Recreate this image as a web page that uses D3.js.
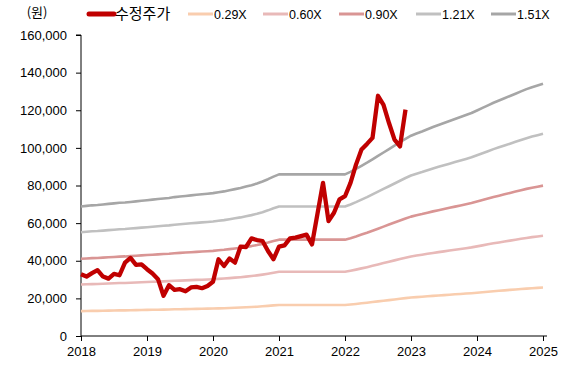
<!DOCTYPE html>
<html>
<head>
<meta charset="utf-8">
<script src="https://cdn.jsdelivr.net/npm/d3@7"></script>
<style>
  html, body { margin: 0; padding: 0; background: #fff; }
  svg { display: block; }
  .tick text { font-family: "Liberation Sans", Arial, sans-serif; font-size: 13px; fill: #000; }
</style>
</head>
<body>
<svg id="chart" width="568" height="369"></svg>
<script>
// Adjusted share price, monthly Jan 2018 – Dec 2022 (KRW)
const priceStart = 2018;
const price = [
  32800, 31600, 33400, 35000, 31600, 30500, 33000, 32300, 39000, 41500, 37800, 38100,
  35500, 33200, 30200, 21400, 27000, 24500, 24900, 23800, 25800, 26100, 25400, 26600,
  28800, 40800, 37200, 41200, 39000, 47500, 47300, 51900, 51000, 50500, 45200, 40800,
  47500, 48200, 51900, 52300, 53100, 53900, 48700, 65000, 81400, 61100, 65500, 72600,
  74300, 81400, 91100, 99100, 102100, 105300, 127700, 122900, 113200, 104400, 100800, 120300
];

// Book value per share, monthly Jan 2018 – Jan 2025 (KRW)
const bps = [
  45600, 45800, 46000, 46100, 46300, 46500, 46700, 46900, 47000, 47200, 47400, 47600,
  47800, 48000, 48200, 48400, 48600, 48900, 49100, 49300, 49500, 49700, 49900, 50100,
  50300, 50600, 50900, 51300, 51700, 52100, 52600, 53100, 53700, 54400, 55200, 56100,
  56900, 56900, 56900, 56900, 56900, 56900, 56900, 56900, 56900, 56900, 56900, 56900,
  56900, 57800, 58800, 59900, 61000, 62200, 63400, 64600, 65800, 67000, 68200, 69400,
  70500, 71300, 72000, 72800, 73600, 74300, 75000, 75700, 76400, 77100, 77800, 78500,
  79400, 80300, 81200, 82100, 82900, 83700, 84500, 85300, 86100, 86900, 87600, 88200,
  88800
];

// PBR multiples for the band lines
const multiples = [0.29, 0.60, 0.90, 1.21, 1.51];
const bandLabels = ["0.29X", "0.60X", "0.90X", "1.21X", "1.51X"];
const bandColors = ["#F9CDAE", "#E8B9B8", "#D99594", "#C0C0C0", "#A6A6A6"];

const priceLabel = "수정주가";
const priceColor = "#C00000";
const unitLabel = "(원)";

const yTicks = [0, 20000, 40000, 60000, 80000, 100000, 120000, 140000, 160000];
const xTicks = [2018, 2019, 2020, 2021, 2022, 2023, 2024, 2025];

const svg = d3.select("#chart");

const x = d3.scaleLinear().domain([2018, 2025]).range([81, 543]);
const y = d3.scaleLinear().domain([0, 160000]).range([336, 35]);

// Axes
const yAxis = d3.axisLeft(y)
  .tickValues(yTicks)
  .tickSize(5)
  .tickPadding(9)
  .tickFormat(d3.format(","));
const gy = svg.append("g").attr("transform", "translate(81,0)").call(yAxis);
gy.select(".domain").attr("d", `M-5,${y(160000)}H0V${y(0)}`).attr("stroke", "#000");
gy.selectAll(".tick line").attr("stroke", "#000");

const xAxis = d3.axisBottom(x)
  .tickValues(xTicks)
  .tickSize(5)
  .tickPadding(6)
  .tickFormat(d3.format("d"));
const gx = svg.append("g").attr("transform", `translate(0,${y(0)})`).call(xAxis);
gx.select(".domain").attr("d", `M${x(2018)},0H547`).attr("stroke", "#000");
gx.selectAll(".tick line").attr("stroke", "#000");

// Band lines: each multiple applied to book value per share
const bandLine = (m) => d3.line()
  .x((d, i) => x(priceStart + i / 12))
  .y(d => y(d * m));

multiples.forEach((m, k) => {
  svg.append("path")
    .datum(bps)
    .attr("fill", "none")
    .attr("stroke", bandColors[k])
    .attr("stroke-width", 2.6)
    .attr("stroke-linejoin", "round")
    .attr("d", bandLine(m));
});

// Price line
const priceLine = d3.line()
  .x((d, i) => x(priceStart + i / 12))
  .y(d => y(d));

svg.append("path")
  .datum(price)
  .attr("fill", "none")
  .attr("stroke", priceColor)
  .attr("stroke-width", 4.3)
  .attr("stroke-linejoin", "round")
  .attr("d", priceLine);

// Unit label
svg.append("text")
  .attr("x", 37).attr("y", 17)
  .attr("text-anchor", "middle")
  .attr("font-family", "'Noto Sans CJK KR', sans-serif")
  .attr("font-size", 13)
  .text(unitLabel);

// Legend
const legendItems = [{ label: priceLabel, color: priceColor, w: 5, kr: true, cap: "round" }]
  .concat(bandLabels.map((l, k) => ({ label: l, color: bandColors[k], w: 3, kr: false, cap: "butt" })));
const legendX = [89, 188, 263, 339, 416, 491];
const ly = 14;

legendItems.forEach((item, k) => {
  const x0 = legendX[k];
  svg.append("line")
    .attr("x1", x0).attr("x2", x0 + 25)
    .attr("y1", ly).attr("y2", ly)
    .attr("stroke", item.color)
    .attr("stroke-width", item.w)
    .attr("stroke-linecap", item.cap);
  svg.append("text")
    .attr("x", x0 + 26).attr("y", ly + 5)
    .attr("font-family", item.kr ? "'Noto Sans CJK KR', sans-serif" : "'Liberation Sans', Arial, sans-serif")
    .attr("font-size", item.kr ? 15 : 12.5)
    .text(item.label);
});
</script>
</body>
</html>
